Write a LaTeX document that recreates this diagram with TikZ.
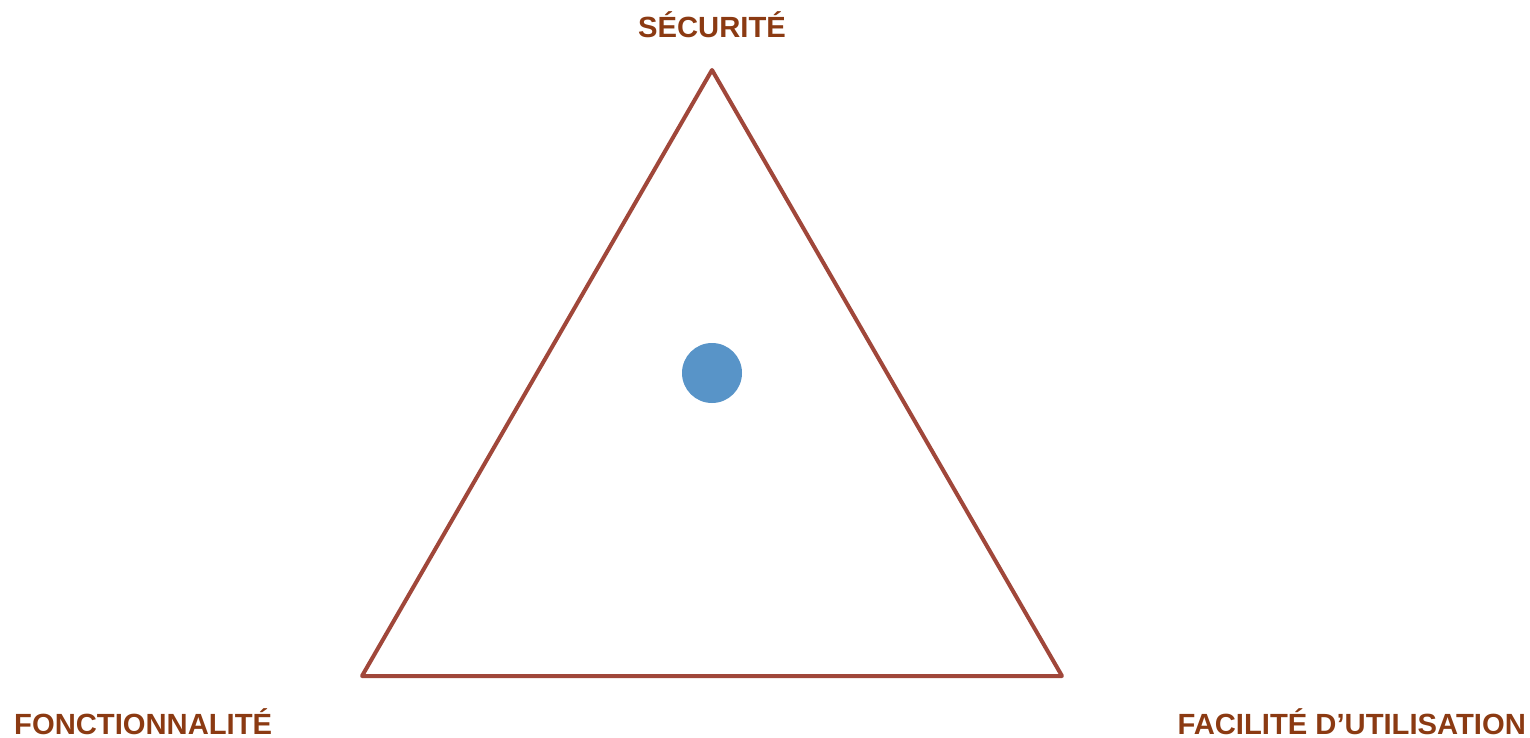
\documentclass[tikz,border=0pt]{standalone}
\usepackage{fontspec}
\setmainfont{Liberation Sans}
\definecolor{lbl}{HTML}{8B3A12}
\definecolor{tri}{HTML}{A0473A}
\definecolor{dot}{HTML}{5894C8}
\begin{document}
\begin{tikzpicture}[x=1pt,y=-1pt,
  lab/.style={text=lbl,font=\bfseries\fontsize{29.2}{31}\selectfont,inner sep=0pt}]
\useasboundingbox (0,0) rectangle (1530,738);
\coordinate (t) at (712,70);
\coordinate (l) at (362,676);
\coordinate (r) at (1062,676);
\draw[tri,line width=4pt,line join=round,line cap=round] (t) -- (l) -- (r) -- cycle;
\fill[dot] (712,373) circle (30);
\node[lab,anchor=base] (s) at (712,38) {SÉCURITÉ};
\node[lab,anchor=base west] (f) at (14,734) {FONCTIONNALITÉ};
\node[lab,anchor=base east] (u) at (1526,734) {FACILITÉ D’UTILISATION};
\end{tikzpicture}
\end{document}
